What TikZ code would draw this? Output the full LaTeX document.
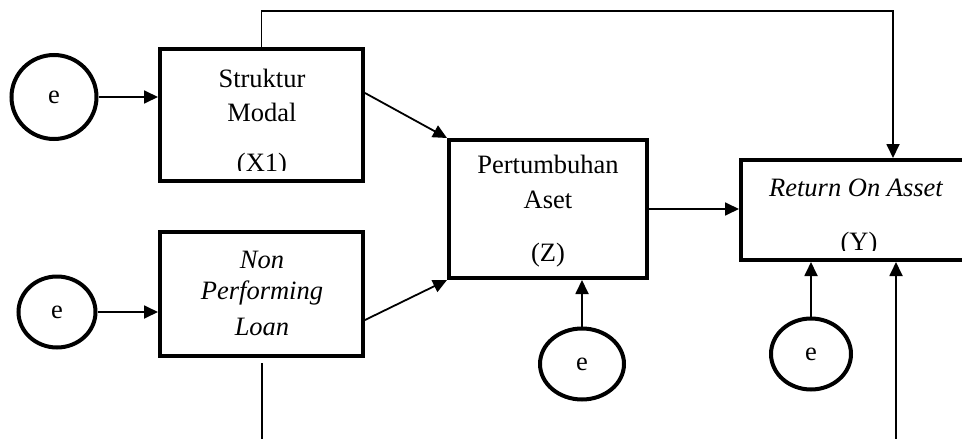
\documentclass[tikz,border=0pt]{standalone}
\usepackage{fontspec}
\setmainfont{Liberation Serif}
\usetikzlibrary{shapes.geometric,arrows.meta,calc}
\begin{document}
\begin{tikzpicture}[x=1pt,y=-1pt,
  box/.style={draw,line width=4pt,rectangle,inner sep=0pt},
  err/.style={draw,line width=4pt,ellipse,inner sep=0pt,font=\fontsize{26.5}{34}\selectfont},
  lbl/.style={font=\fontsize{26.5}{34}\selectfont,inner sep=0pt},
  arr/.style={line width=1.8pt,-{Triangle[length=14pt,width=13pt]}},
  ln/.style={line width=1.8pt}]
\useasboundingbox (0,0) rectangle (962,439);
% boxes
\node[box,minimum width=203pt,minimum height=132pt] (x1) at (261.5,115) {};
\node[box,minimum width=203pt,minimum height=124pt] (npl) at (261.5,294) {};
\node[box,minimum width=198pt,minimum height=138pt] (z) at (548,209) {};
\node[box,minimum width=230pt,minimum height=100pt] (roa) at (856,210) {};
% texts
\node[lbl] (t1a) at (262,78) {Struktur};
\node[lbl] (t1b) at (262,112) {Modal};
\begin{scope}
\clip (170,140) rectangle (350,170);
\node[lbl] (t1c) at (262,165) {(X1)};
\end{scope}
\node[lbl] (t2a) at (262,260) {\itshape Non};
\node[lbl] (t2b) at (262,293) {\itshape Performing};
\node[lbl] (t2c) at (262,327) {\itshape Loan};
\node[lbl] (t3a) at (548,164) {Pertumbuhan};
\node[lbl] (t3b) at (548,200) {Aset};
\node[lbl] (t3c) at (548,255) {(Z)};
\node[lbl] (t4a) at (856,188) {\itshape Return On Asset};
\begin{scope}
\clip (760,225) rectangle (950,250);
\node[lbl] (t4b) at (859,244) {(Y)};
\end{scope}
% error terms
\node[err,minimum width=85pt,minimum height=84pt] (e1) at (54,97) {e};
\node[err,minimum width=77pt,minimum height=71pt] (e2) at (57,312) {e};
\node[err,minimum width=84pt,minimum height=71pt] (e3) at (582,364) {e};
\node[err,minimum width=80pt,minimum height=71pt] (e4) at (811,354) {e};
% connectors
\draw[arr] (e1.east) -- (e1.east -| x1.west);
\draw[arr] (e2.east) -- (e2.east -| npl.west);
\draw[arr] (e3.north) -- (e3.north |- z.south);
\draw[arr] (e4.north) -- (e4.north |- roa.south);
\draw[arr] ([yshift=22pt]x1.east) -- (z.north west);
\draw[arr] ([yshift=-26pt]npl.east) -- (z.south west);
\draw[arr] (z.east) -- (z.east -| roa.west);
\coordinate (tc) at (893,11);
\draw[arr] (x1.north) |- (tc) -- (tc |- roa.north);
\coordinate (nb) at (262,363);
\coordinate (nbe) at (262,439);
\draw[ln] (nb) -- (nbe);
\coordinate (rb) at (896,439);
\draw[arr] (rb) -- (rb |- roa.south);
\end{tikzpicture}
\end{document}
